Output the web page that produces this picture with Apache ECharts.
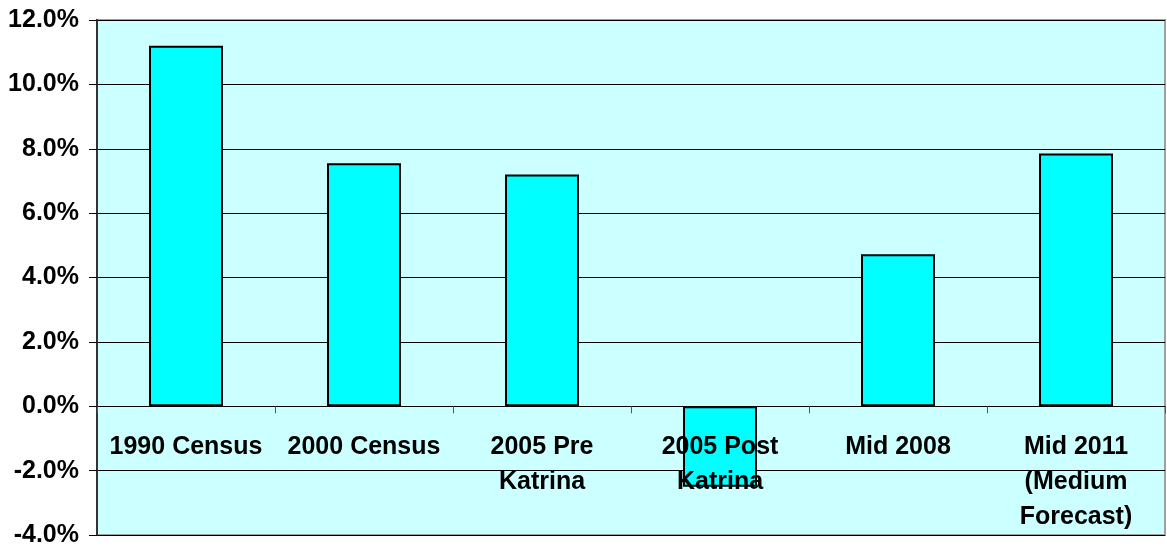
<!DOCTYPE html>
<html>
<head>
<meta charset="utf-8">
<script src="https://cdn.jsdelivr.net/npm/echarts@6/dist/echarts.min.js"></script>
<style>
    html, body { margin: 0; padding: 0; background: #fff; }
    #main { width: 1167px; height: 550px; }
</style>
</head>
<body>
<div id="main"></div>
<script>
// 类目
var categories = ['1990 Census', '2000 Census', '2005 Pre\nKatrina', '2005 Post\nKatrina', 'Mid 2008', 'Mid 2011\n(Medium\nForecast)'];
// 数值 (%)
var values = [11.2, 7.55, 7.2, -2.5, 4.72, 7.85];
// 纵轴刻度
var yMin = -4;
var yMax = 12;
var yStep = 2;

var font = 'Liberation Sans, Arial, sans-serif';
var gridTop = 20;
var gridBottom = 15;
var gridH = 550 - gridTop - gridBottom;
// 横轴放在0值处
var zeroShift = -gridH * (0 - yMin) / (yMax - yMin);

let dom = echarts.init(document.getElementById('main'));
var option = {
    backgroundColor: '#ffffff',
    animation: false,
    grid: {
        left: 97,
        right: 2,
        top: gridTop,
        bottom: gridBottom,
        containLabel: false,
        outerBoundsMode: 'none',
        show: true,
        backgroundColor: '#ccffff',
        borderColor: '#a0a0a0',
        borderWidth: 2
    },
    xAxis: {
        type: 'category',
        data: categories,
        z: 5,
        offset: zeroShift,
        axisLine: {
            onZero: false,
            lineStyle: { color: '#000', width: 1 }
        },
        axisTick: {
            show: true,
            alignWithLabel: false,
            length: 7,
            lineStyle: { color: '#555' }
        },
        axisLabel: {
            interval: 0,
            margin: 23,
            color: '#000',
            fontFamily: font,
            fontWeight: 'bold',
            fontSize: 25,
            lineHeight: 35
        }
    },
    yAxis: {
        type: 'value',
        min: yMin,
        max: yMax,
        interval: yStep,
        axisLine: {
            show: true,
            lineStyle: { color: '#333', width: 2 }
        },
        axisTick: {
            show: true,
            length: 8,
            lineStyle: { color: '#000' }
        },
        splitLine: {
            show: true,
            lineStyle: { color: '#000', width: 1 }
        },
        axisLabel: {
            margin: 18,
            color: '#000',
            fontFamily: font,
            fontWeight: 'bold',
            fontSize: 25,
            formatter: function (v) { return v.toFixed(1) + '%'; }
        }
    },
    series: [{
        type: 'bar',
        data: values,
        barWidth: 74,
        itemStyle: {
            color: '#00ffff',
            borderColor: '#000',
            borderWidth: 2
        }
    }]
};
dom.setOption(option);
</script>
</body>
</html>
